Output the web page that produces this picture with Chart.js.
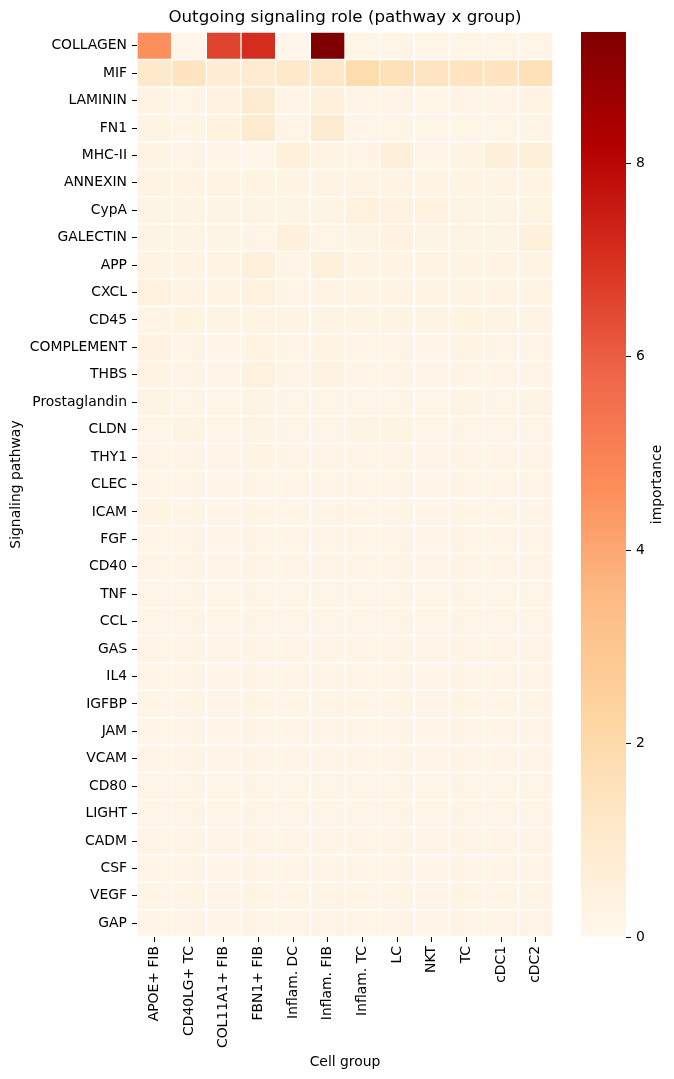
<!DOCTYPE html>
<html>
<head>
<meta charset="utf-8">
<script src="https://cdn.jsdelivr.net/npm/chart.js@4.4.1/dist/chart.umd.min.js"></script>
<style>
  html, body { margin: 0; padding: 0; background: #fff; }
  #wrap { position: relative; width: 674px; height: 1079px; }
  #heat { position: absolute; left: 0; top: 0; }
  #cbar { position: absolute; left: 560px; top: 0; }
</style>
</head>
<body>
<div id="wrap">
  <canvas id="heat" width="674" height="1079"></canvas>
  <canvas id="cbar" width="114" height="1079"></canvas>
</div>
<script>
// cell groups (columns)
const groups = ['APOE+ FIB', 'CD40LG+ TC', 'COL11A1+ FIB', 'FBN1+ FIB', 'Inflam. DC', 'Inflam. FIB',
                'Inflam. TC', 'LC', 'NKT', 'TC', 'cDC1', 'cDC2'];

// signaling pathways (rows)
const pathways = ['COLLAGEN', 'MIF', 'LAMININ', 'FN1', 'MHC-II', 'ANNEXIN', 'CypA', 'GALECTIN', 'APP', 'CXCL',
                  'CD45', 'COMPLEMENT', 'THBS', 'Prostaglandin', 'CLDN', 'THY1', 'CLEC', 'ICAM', 'FGF', 'CD40',
                  'TNF', 'CCL', 'GAS', 'IL4', 'IGFBP', 'JAM', 'VCAM', 'CD80', 'LIGHT', 'CADM', 'CSF', 'VEGF', 'GAP'];

// importance per pathway, one value per cell group
const collagen      = [4.6, 0.12, 6.6, 7.1, 0.12, 9.36, 0.15, 0.15, 0.15, 0.15, 0.15, 0.15];
const mif           = [1.1, 1.4, 0.8, 0.9, 1.1, 1.2, 1.9, 1.6, 1.4, 1.4, 1.4, 1.6];
const laminin       = [0.3, 0.15, 0.5, 0.85, 0.2, 0.55, 0.2, 0.2, 0.18, 0.2, 0.2, 0.25];
const fn1           = [0.25, 0.2, 0.5, 0.9, 0.2, 0.85, 0.2, 0.15, 0.15, 0.15, 0.15, 0.2];
const mhc2          = [0.25, 0.2, 0.2, 0.1, 0.55, 0.25, 0.2, 0.6, 0.2, 0.25, 0.6, 0.65];
const annexin       = [0.3, 0.35, 0.3, 0.35, 0.25, 0.25, 0.25, 0.3, 0.25, 0.35, 0.3, 0.35];
const cypa          = [0.25, 0.25, 0.25, 0.25, 0.3, 0.25, 0.45, 0.4, 0.4, 0.3, 0.25, 0.35];
const galectin      = [0.25, 0.25, 0.25, 0.2, 0.55, 0.2, 0.25, 0.4, 0.25, 0.3, 0.25, 0.55];
const app           = [0.25, 0.25, 0.25, 0.55, 0.2, 0.55, 0.25, 0.25, 0.25, 0.25, 0.25, 0.25];
const cxcl          = [0.5, 0.25, 0.25, 0.45, 0.2, 0.25, 0.25, 0.25, 0.25, 0.25, 0.25, 0.25];
const cd45          = [0.2, 0.35, 0.25, 0.25, 0.25, 0.25, 0.25, 0.25, 0.3, 0.35, 0.25, 0.25];
const complement    = [0.4, 0.2, 0.2, 0.35, 0.2, 0.35, 0.2, 0.2, 0.2, 0.25, 0.2, 0.2];
const thbs          = [0.25, 0.2, 0.2, 0.5, 0.2, 0.4, 0.2, 0.2, 0.2, 0.2, 0.2, 0.2];
const prostaglandin = [0.25, 0.2, 0.2, 0.25, 0.2, 0.2, 0.2, 0.2, 0.2, 0.25, 0.2, 0.25];
const cldn          = [0.2, 0.25, 0.2, 0.25, 0.2, 0.2, 0.25, 0.35, 0.2, 0.2, 0.2, 0.2];
const thy1          = [0.2, 0.2, 0.2, 0.3, 0.2, 0.2, 0.2, 0.2, 0.2, 0.2, 0.2, 0.2];
const clec          = [0.2, 0.2, 0.2, 0.2, 0.2, 0.2, 0.2, 0.2, 0.2, 0.2, 0.2, 0.2];
const icam          = [0.25, 0.2, 0.2, 0.2, 0.2, 0.2, 0.2, 0.2, 0.2, 0.2, 0.2, 0.2];
const fgf           = [0.2, 0.2, 0.2, 0.2, 0.2, 0.2, 0.2, 0.2, 0.2, 0.2, 0.2, 0.2];
const cd40          = [0.2, 0.2, 0.2, 0.2, 0.2, 0.2, 0.2, 0.2, 0.2, 0.2, 0.2, 0.2];
const tnf           = [0.2, 0.2, 0.2, 0.2, 0.2, 0.2, 0.2, 0.2, 0.2, 0.2, 0.2, 0.2];
const ccl           = [0.2, 0.2, 0.2, 0.2, 0.2, 0.2, 0.2, 0.2, 0.2, 0.2, 0.2, 0.2];
const gas           = [0.2, 0.2, 0.2, 0.2, 0.2, 0.2, 0.2, 0.2, 0.2, 0.2, 0.2, 0.2];
const il4           = [0.2, 0.2, 0.2, 0.2, 0.2, 0.2, 0.2, 0.2, 0.2, 0.2, 0.2, 0.2];
const igfbp         = [0.2, 0.2, 0.2, 0.2, 0.2, 0.2, 0.2, 0.2, 0.2, 0.2, 0.2, 0.2];
const jam           = [0.2, 0.2, 0.2, 0.2, 0.2, 0.2, 0.2, 0.2, 0.2, 0.2, 0.2, 0.2];
const vcam          = [0.2, 0.2, 0.2, 0.2, 0.2, 0.2, 0.2, 0.2, 0.2, 0.2, 0.2, 0.2];
const cd80          = [0.2, 0.2, 0.2, 0.2, 0.2, 0.2, 0.2, 0.2, 0.2, 0.2, 0.2, 0.2];
const light         = [0.2, 0.2, 0.2, 0.2, 0.2, 0.2, 0.2, 0.2, 0.2, 0.2, 0.2, 0.2];
const cadm          = [0.2, 0.2, 0.2, 0.2, 0.2, 0.2, 0.2, 0.2, 0.2, 0.2, 0.2, 0.2];
const csf           = [0.2, 0.2, 0.2, 0.2, 0.2, 0.2, 0.2, 0.2, 0.2, 0.2, 0.2, 0.2];
const vegf          = [0.2, 0.2, 0.2, 0.2, 0.2, 0.2, 0.2, 0.2, 0.2, 0.2, 0.2, 0.2];
const gap           = [0.2, 0.2, 0.2, 0.2, 0.2, 0.2, 0.2, 0.2, 0.2, 0.2, 0.2, 0.2];

const rows = [collagen, mif, laminin, fn1, mhc2, annexin, cypa, galectin, app, cxcl,
              cd45, complement, thbs, prostaglandin, cldn, thy1, clec, icam, fgf, cd40,
              tnf, ccl, gas, il4, igfbp, jam, vcam, cd80, light, cadm, csf, vegf, gap];

const cbarTicks = [0, 2, 4, 6, 8];

// OrRd colormap
const orrd = ['#fff7ec', '#fee8c8', '#fdd49e', '#fdbb84', '#fc8d59', '#ef6548', '#d7301f', '#b30000', '#7f0000'];
const vmax = Math.max(...rows.map(r => Math.max(...r)));

function hexRgb(h) {
  return [parseInt(h.slice(1, 3), 16), parseInt(h.slice(3, 5), 16), parseInt(h.slice(5, 7), 16)];
}
function colorFor(v) {
  let f = Math.min(Math.max(v / vmax, 0), 1) * (orrd.length - 1);
  let i = Math.min(Math.floor(f), orrd.length - 2);
  let t = f - i;
  let a = hexRgb(orrd[i]), b = hexRgb(orrd[i + 1]);
  let c = a.map((x, k) => Math.round(x + (b[k] - x) * t));
  return 'rgb(' + c.join(',') + ')';
}

const family = 'DejaVu Sans';
const tickFont = { family: family, size: 13.9 };
Chart.defaults.color = '#000';

// one floating-bar dataset per cell group, one bar per pathway
const datasets = groups.map((g, j) => ({
  label: g,
  data: pathways.map(() => [j, j + 1]),
  backgroundColor: rows.map(r => colorFor(r[j])),
  borderColor: '#fff',
  borderWidth: 1,
  borderSkipped: false,
  barPercentage: 1,
  categoryPercentage: 1,
  grouped: false
}));

new Chart(document.getElementById('heat'), {
  type: 'bar',
  data: { labels: pathways, datasets: datasets },
  options: {
    responsive: false,
    animation: false,
    indexAxis: 'y',
    layout: { padding: { left: 0, right: 121, top: 0, bottom: 0 } },
    plugins: {
      legend: { display: false },
      tooltip: { enabled: false },
      title: {
        display: true,
        text: 'Outgoing signaling role (pathway x group)',
        fullSize: false,
        color: '#000',
        font: { family: family, size: 16.7, weight: 'normal' },
        padding: { top: 8, bottom: 4 }
      }
    },
    scales: {
      x: {
        type: 'linear',
        min: 0,
        max: 12,
        afterBuildTicks: s => { s.ticks = groups.map((g, i) => ({ value: i + 0.5 })); },
        afterFit: s => { s.height = 1079 - 937; },
        ticks: {
          autoSkip: false,
          minRotation: 90,
          maxRotation: 90,
          padding: 4,
          font: tickFont,
          color: '#000',
          callback: (v, i) => groups[i]
        },
        grid: { drawOnChartArea: false, tickLength: 5, tickColor: '#000', tickWidth: 1 },
        border: { display: false },
        title: { display: true, text: 'Cell group', font: tickFont, color: '#000', padding: { top: 0, bottom: 8 } }
      },
      y: {
        type: 'category',
        afterFit: s => { s.width = 137; },
        ticks: { autoSkip: false, padding: 5, font: tickFont, color: '#000' },
        grid: { offset: false, drawOnChartArea: false, tickLength: 5, tickColor: '#000', tickWidth: 1 },
        border: { display: false },
        title: { display: true, text: 'Signaling pathway', font: tickFont, color: '#000', padding: { top: 8, bottom: 0 } }
      }
    }
  }
});

// colorbar
const cbarLabel = {
  id: 'cbarLabel',
  afterDraw(chart) {
    const ctx = chart.ctx;
    ctx.save();
    ctx.translate(97, (chart.chartArea.top + chart.chartArea.bottom) / 2);
    ctx.rotate(-Math.PI / 2);
    ctx.fillStyle = '#000';
    ctx.font = '13.9px "DejaVu Sans"';
    ctx.textAlign = 'center';
    ctx.textBaseline = 'middle';
    ctx.fillText('importance', 0, 0);
    ctx.restore();
  }
};

new Chart(document.getElementById('cbar'), {
  type: 'bar',
  data: {
    labels: ['importance'],
    datasets: [{
      data: [[0, vmax]],
      backgroundColor: c => {
        const area = c.chart.chartArea;
        if (!area) return orrd[0];
        const g = c.chart.ctx.createLinearGradient(0, area.bottom, 0, area.top);
        orrd.forEach((col, k) => g.addColorStop(k / (orrd.length - 1), col));
        return g;
      },
      borderWidth: 0,
      barPercentage: 1,
      categoryPercentage: 1
    }]
  },
  options: {
    responsive: false,
    animation: false,
    layout: { padding: { left: 21, right: 0, top: 32, bottom: 142 } },
    plugins: { legend: { display: false }, tooltip: { enabled: false } },
    scales: {
      x: { display: false },
      y: {
        position: 'right',
        min: 0,
        max: vmax,
        afterBuildTicks: s => { s.ticks = cbarTicks.map(v => ({ value: v })); },
        afterFit: s => { s.width = 48; },
        ticks: { padding: 5, font: tickFont, color: '#000' },
        grid: { drawOnChartArea: false, tickLength: 5, tickColor: '#000', tickWidth: 1 },
        border: { display: false }
      }
    }
  },
  plugins: [cbarLabel]
});
</script>
</body>
</html>
